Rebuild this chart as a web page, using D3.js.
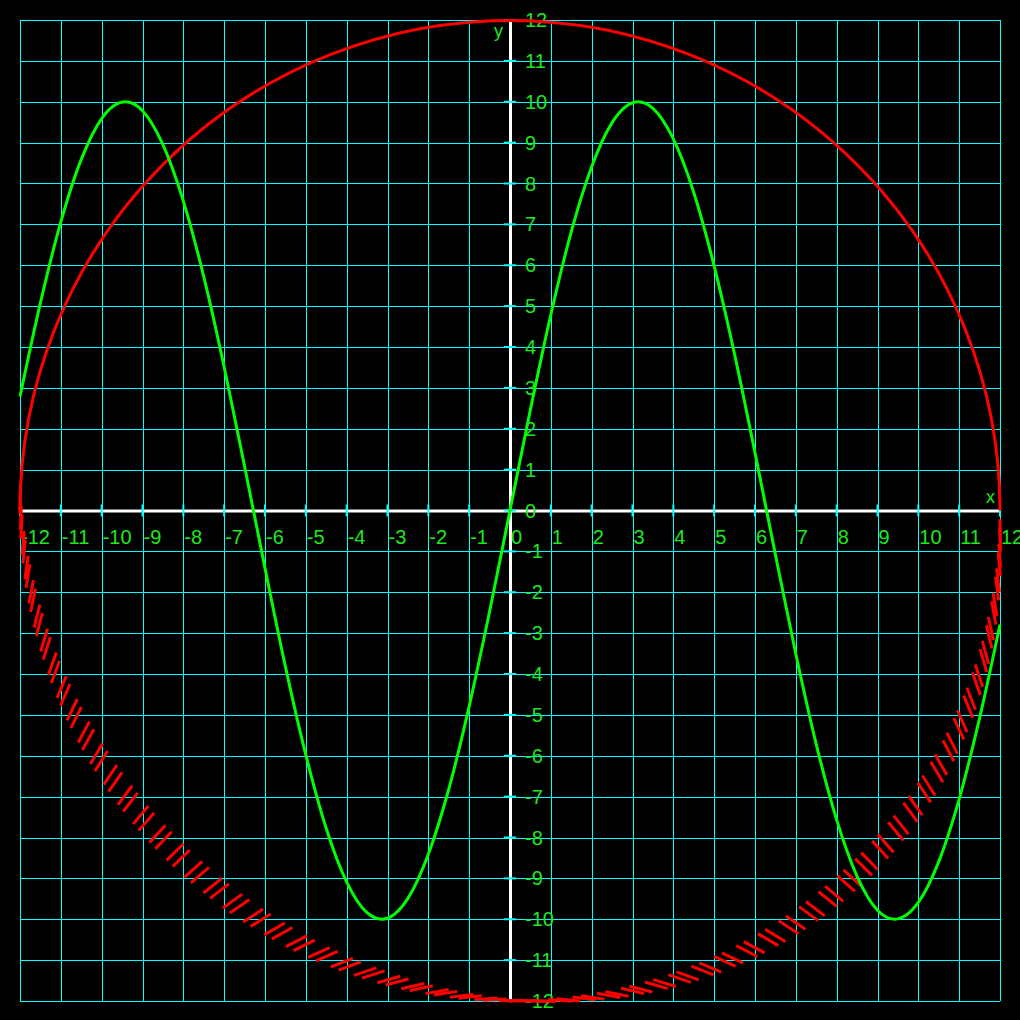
<!DOCTYPE html>
<html>
<head>
<meta charset="utf-8">
<script src="https://cdn.jsdelivr.net/npm/d3@7"></script>
<style>
  html, body { margin: 0; padding: 0; background: #000; }
  svg { display: block; }
</style>
</head>
<body>
<script>
// ---- data ----
const xTicks = [-12,-11,-10,-9,-8,-7,-6,-5,-4,-3,-2,-1,0,1,2,3,4,5,6,7,8,9,10,11,12];
const yTicks = [-12,-11,-10,-9,-8,-7,-6,-5,-4,-3,-2,-1,0,1,2,3,4,5,6,7,8,9,10,11,12];
const xTickLabels = ["-12","-11","-10","-9","-8","-7","-6","-5","-4","-3","-2","-1","0","1","2","3","4","5","6","7","8","9","10","11","12"];
const yTickLabels = ["-12","-11","-10","-9","-8","-7","-6","-5","-4","-3","-2","-1","0","1","2","3","4","5","6","7","8","9","10","11","12"];
const axisNames = ["x", "y"];

// green curve, points
const curveX = [-12,-11.5,-11,-10.5,-10,-9.42,-9,-8.5,-8,-7.5,-7,-6.5,-6,-5.5,-5,-4.5,-4,-3.5,-3.14,-2.5,-2,-1.5,-1,-0.5,0,
                0.5,1,1.5,2,2.5,3.14,3.5,4,4.5,5,5.5,6,6.5,7,7.5,8,8.5,9,9.42,10,10.5,11,11.5,12];
const curveY = [2.79,5.08,7.06,8.59,9.59,10,9.78,8.95,7.57,5.72,3.51,1.08,-1.41,-3.82,-5.98,-7.78,-9.09,-9.84,-10,-9.49,-8.41,-6.82,-4.79,-2.47,0,
                2.47,4.79,6.82,8.41,9.49,10,9.84,9.09,7.78,5.98,3.82,1.41,-1.08,-3.51,-5.72,-7.57,-8.95,-9.78,-10,-9.59,-8.59,-7.06,-5.08,-2.79];

// red circle
const circleCenter = [0, 0];
const circleRadius = [12];

// ---- drawing ----
const W = 1020, H = 1020;
const svg = d3.select("body").append("svg").attr("width", W).attr("height", H)
  .style("background", "#000");

const x = d3.scaleLinear().domain([-12, 12]).range([20, 1000]);
const y = d3.scaleLinear().domain([-12, 12]).range([1001, 20]);

const FONT = "'Liberation Sans', Arial, sans-serif";
const LABEL = "#1ee81e";
const CYAN = "#00ffff";

// grid
const grid = svg.append("g").attr("shape-rendering", "crispEdges");
grid.selectAll("line.v").data(xTicks).join("line")
  .attr("x1", d => Math.round(x(d)) + 0.5).attr("x2", d => Math.round(x(d)) + 0.5)
  .attr("y1", y(12)).attr("y2", y(-12))
  .attr("stroke", CYAN).attr("stroke-width", 1);
grid.selectAll("line.h").data(yTicks).join("line")
  .attr("y1", d => Math.round(y(d)) + 0.5).attr("y2", d => Math.round(y(d)) + 0.5)
  .attr("x1", x(-12)).attr("x2", x(12))
  .attr("stroke", CYAN).attr("stroke-width", 1);

// axes
svg.append("line").attr("x1", x(-12)).attr("x2", x(12))
  .attr("y1", y(0) + 0.5).attr("y2", y(0) + 0.5)
  .attr("stroke", "#ffffff").attr("stroke-width", 3);
svg.append("line").attr("y1", y(12)).attr("y2", y(-12))
  .attr("x1", x(0) + 0.5).attr("x2", x(0) + 0.5)
  .attr("stroke", "#ffffff").attr("stroke-width", 3);

// ticks
svg.append("g").selectAll("line").data(xTicks).join("line")
  .attr("x1", d => x(d)).attr("x2", d => x(d))
  .attr("y1", y(0) - 6).attr("y2", y(0) + 6)
  .attr("stroke", CYAN).attr("stroke-width", 2);
svg.append("g").selectAll("line").data(yTicks).join("line")
  .attr("y1", d => y(d)).attr("y2", d => y(d))
  .attr("x1", x(0) - 6).attr("x2", x(0) + 6)
  .attr("stroke", CYAN).attr("stroke-width", 2);

// tick labels
svg.append("g").selectAll("text").data(xTicks).join("text")
  .attr("x", d => x(d) + 1).attr("y", y(0) + 33)
  .attr("fill", LABEL).attr("font-family", FONT).attr("font-size", 20)
  .text((d, i) => xTickLabels[i]);
svg.append("g").selectAll("text").data(yTicks).join("text")
  .attr("x", x(0) + 15).attr("y", d => y(d) + 7)
  .attr("fill", LABEL).attr("font-family", FONT).attr("font-size", 20)
  .text((d, i) => yTickLabels[i]);

// axis names
svg.append("text").attr("x", x(12) - 14).attr("y", y(0) - 8)
  .attr("fill", LABEL).attr("font-family", FONT).attr("font-size", 18).text(axisNames[0]);
svg.append("text").attr("x", x(0) - 16).attr("y", y(12) + 17)
  .attr("fill", LABEL).attr("font-family", FONT).attr("font-size", 18).text(axisNames[1]);

// red circle: upper half solid
const cx = x(circleCenter[0]), cy = y(circleCenter[1]);
const rPx = x(circleRadius[0]) - x(0);
const p = d3.path();
p.moveTo(cx - rPx, cy);
p.arc(cx, cy, rPx, Math.PI, 2 * Math.PI);
svg.append("path").attr("d", p.toString())
  .attr("fill", "none").attr("stroke", "#ff0000").attr("stroke-width", 3);

// lower half: hatched dash style (pairs of slanted strokes)
const R = circleRadius[0];
const dashLen = 0.58, period = 2.88, pairGap = 1.0, phase = 2.3;
const dashes = [];
for (let a = 180 + phase - period; a <= 360; a += period) {
  [a, a + pairGap].forEach(t => {
    if (t < 180 || t > 360) return;
    const r = t * Math.PI / 180;
    const px = circleCenter[0] + R * Math.cos(r), py = circleCenter[1] + R * Math.sin(r);
    dashes.push({x1: px, y1: py, x2: px - dashLen * Math.sin(r), y2: py - dashLen * Math.cos(r)});
  });
}
svg.append("g").selectAll("line").data(dashes).join("line")
  .attr("x1", d => x(d.x1)).attr("y1", d => y(d.y1))
  .attr("x2", d => x(d.x2)).attr("y2", d => y(d.y2))
  .attr("stroke", "#ff0000").attr("stroke-width", 3);

// green curve
const pts = curveX.map((v, i) => [v, curveY[i]]);
svg.append("path").datum(pts)
  .attr("d", d3.line().x(d => x(d[0])).y(d => y(d[1])).curve(d3.curveMonotoneX))
  .attr("fill", "none").attr("stroke", "#00ff00").attr("stroke-width", 3);
</script>
</body>
</html>
